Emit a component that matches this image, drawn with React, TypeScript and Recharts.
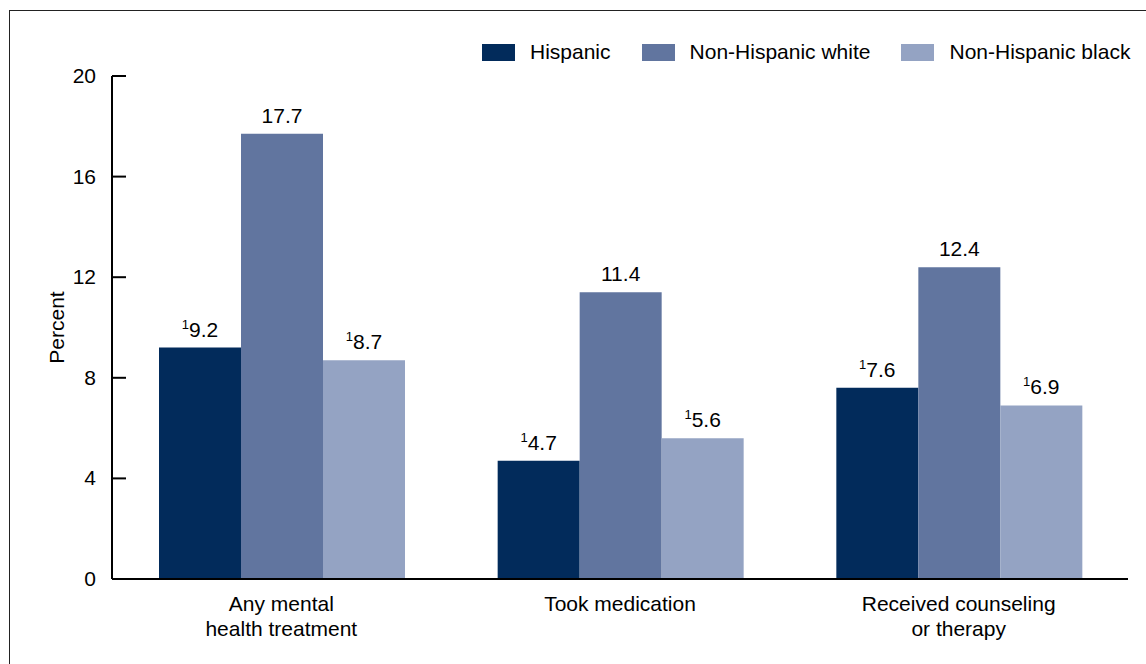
import React from 'react';
import { BarChart, Bar, XAxis, YAxis, Legend, LabelList } from 'recharts';

const categories = ['Any mental\nhealth treatment', 'Took medication', 'Received counseling\nor therapy'];
const hispanic = [9.2, 4.7, 7.6];
const white = [17.7, 11.4, 12.4];
const black = [8.7, 5.6, 6.9];
const yTicks = [0, 4, 8, 12, 16, 20];

const series = [
  { key: 'hispanic', name: 'Hispanic', color: '#022b5b', footnote: true },
  { key: 'white', name: 'Non-Hispanic white', color: '#61759f', footnote: false },
  { key: 'black', name: 'Non-Hispanic black', color: '#94a3c3', footnote: true },
];

const data = categories.map((c, i) => ({
  category: c,
  hispanic: hispanic[i],
  white: white[i],
  black: black[i],
}));

const FONT = '"Liberation Sans", Arial, sans-serif';
const FS = 21;

const YTick = (props: any) => {
  const { x, y, payload } = props;
  return (
    <g>
      <line x1={x} y1={y} x2={x + 14} y2={y} stroke="#000" strokeWidth={2} />
      <text x={x - 16} y={y + 7} textAnchor="end" fontSize={FS} fontFamily={FONT} fill="#000">
        {payload.value}
      </text>
    </g>
  );
};

const XTick = (props: any) => {
  const { x, y, payload } = props;
  const lines = String(payload.value).split('\n');
  return (
    <text x={x} y={y + 32} textAnchor="middle" fontSize={FS} fontFamily={FONT} fill="#000">
      {lines.map((l, i) => (
        <tspan key={i} x={x} dy={i === 0 ? 0 : 25}>
          {l}
        </tspan>
      ))}
    </text>
  );
};

const makeLabel = (footnote: boolean) => (props: any) => {
  const { x, y, width, value } = props;
  const cx = x + width / 2;
  return (
    <text x={cx} y={y - 11} textAnchor="middle" fontSize={FS} fontFamily={FONT} fill="#000">
      {footnote && (
        <tspan fontSize={13} dy={-8}>
          1
        </tspan>
      )}
      <tspan dy={footnote ? 8 : 0}>{value}</tspan>
    </text>
  );
};

const LegendContent = () => (
  <div style={{ display: 'flex', alignItems: 'center', fontFamily: FONT, fontSize: FS, color: '#000', whiteSpace: 'nowrap' }}>
    {series.map((s) => (
      <div key={s.key} style={{ display: 'flex', alignItems: 'center', marginRight: 31 }}>
        <div style={{ width: 33, height: 17, background: s.color, marginRight: 15 }} />
        <span>{s.name}</span>
      </div>
    ))}
  </div>
);

export default function App() {
  return (
    <div style={{ position: 'fixed', left: 0, top: 0, width: 1146, height: 664, overflow: 'hidden', background: '#fff' }}>
      <div
        style={{
          position: 'absolute',
          left: 9,
          top: 10,
          width: 1200,
          height: 700,
          border: '1px solid #222',
        }}
      />
      <div style={{ position: 'absolute', left: 0, top: 0 }}>
        <BarChart
          width={1146}
          height={664}
          data={data}
          margin={{ top: 76, right: 18, bottom: 55, left: 12 }}
          barCategoryGap={47}
          barGap={0}
        >
          <XAxis
            dataKey="category"
            interval={0}
            height={30}
            tickLine={false}
            tickSize={0}
            tickMargin={0}
            tick={<XTick />}
            axisLine={{ stroke: '#000', strokeWidth: 2 }}
          />
          <YAxis
            width={100}
            domain={[0, 20]}
            ticks={yTicks}
            interval={0}
            tickLine={false}
            tickSize={0}
            tickMargin={0}
            tick={<YTick />}
            axisLine={{ stroke: '#000', strokeWidth: 2 }}
            label={{
              value: 'Percent',
              angle: -90,
              position: 'insideLeft',
              offset: 45,
              style: { fontSize: FS, fontFamily: FONT, fill: '#000', textAnchor: 'middle' },
            }}
          />
          <Legend
            verticalAlign="top"
            content={<LegendContent />}
            wrapperStyle={{ top: 40, left: 482, width: 'auto', height: 0, overflow: 'visible' }}
          />
          {series.map((s) => (
            <Bar key={s.key} dataKey={s.key} name={s.name} fill={s.color} isAnimationActive={false}>
              <LabelList dataKey={s.key} content={makeLabel(s.footnote)} />
            </Bar>
          ))}
        </BarChart>
      </div>
    </div>
  );
}
